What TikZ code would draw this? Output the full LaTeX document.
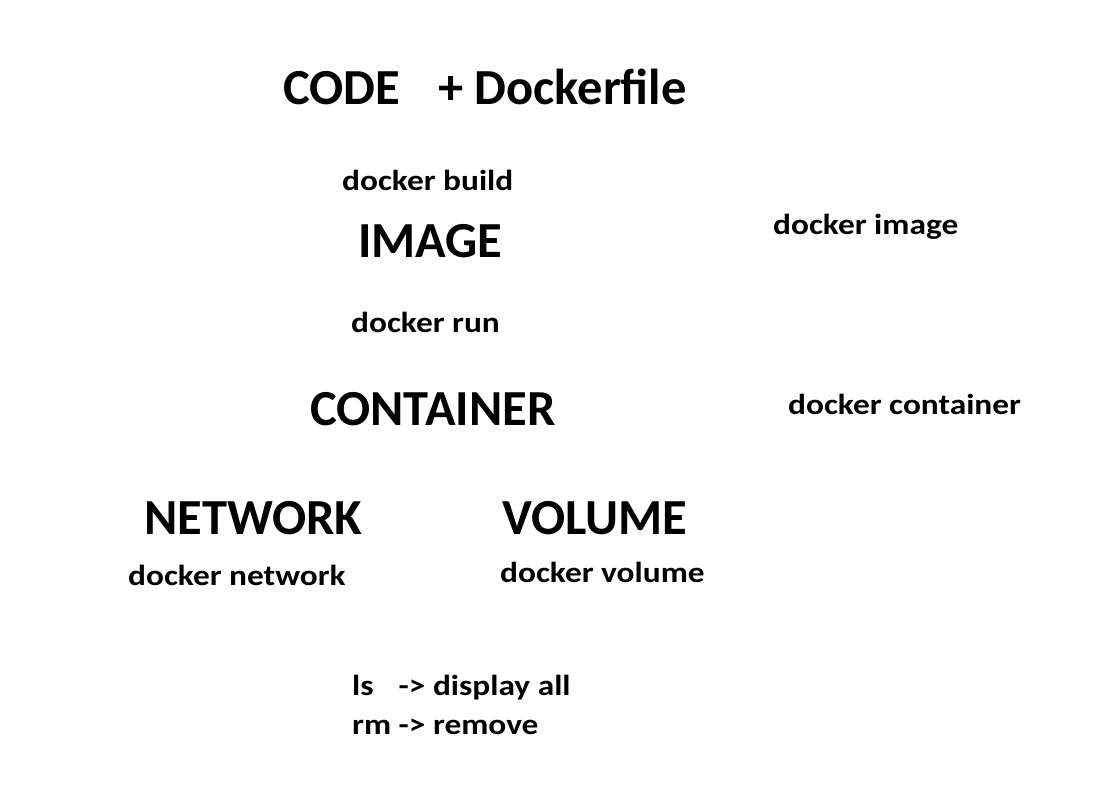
\documentclass[tikz,border=0pt]{standalone}
\usepackage{fontspec}
\setmainfont{Carlito}
\newfontfamily\smallf[FakeStretch=1.15]{Carlito}
\begin{document}
\begin{tikzpicture}[x=1pt,y=-1pt,
  big/.style={anchor=base west,inner sep=0pt,font=\bfseries\fontsize{50.5}{60}\selectfont},
  small/.style={anchor=base west,inner sep=0pt,font=\smallf\bfseries\fontsize{29}{34}\selectfont}]
\useasboundingbox[fill=white] (0,0) rectangle (1096,788);
\node[big] (code) at (283,104) {CODE\hspace{38pt}+ Dockerfile};
\node[small] (build) at (342,190) {docker build};
\node[big] (image) at (358,257) {IMAGE};
\node[small] (dimage) at (773,234) {docker image};
\node[small] (run) at (351,332) {docker run};
\node[big] (container) at (310,425) {CONTAINER};
\node[small] (dcontainer) at (788,414) {docker container};
\node[big] (network) at (144,534) {NETWORK};
\node[big] (volume) at (502,534) {VOLUME};
\node[small] (dnetwork) at (128,585) {docker network};
\node[small] (dvolume) at (500,582) {docker volume};
\node[small] (ls) at (352,695) {ls\hspace{25pt}-> display all};
\node[small] (rm) at (352,734) {rm -> remove};
\end{tikzpicture}
\end{document}
